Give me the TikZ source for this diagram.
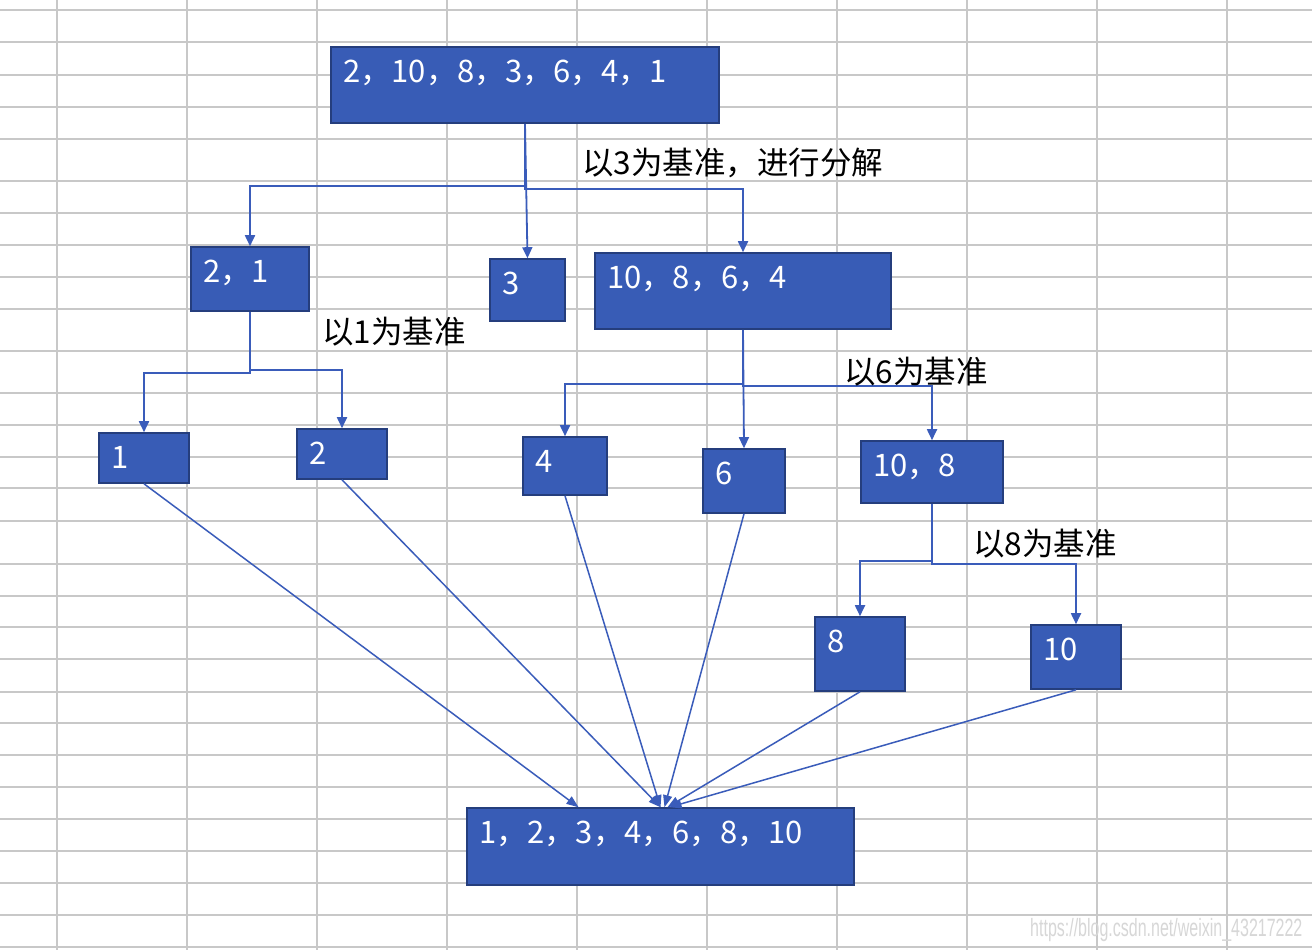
\documentclass[tikz,border=0pt]{standalone}
\usepackage{fontspec}
\setmainfont{Noto Sans CJK SC}
\newfontfamily\wmfont{Liberation Sans}
\usetikzlibrary{arrows.meta,calc}
\definecolor{boxfill}{RGB}{56,92,182}
\definecolor{boxline}{RGB}{37,62,125}
\definecolor{connblue}{RGB}{58,92,186}
\definecolor{gridgray}{RGB}{200,200,200}
\definecolor{wmgray}{RGB}{215,215,215}

\begin{document}
\begin{tikzpicture}[x=1bp,y=-1bp,
    pbox/.style={draw=boxline, fill=boxfill, line width=1.6bp, inner sep=0pt},
    ptxt/.style={anchor=base west, inner sep=0pt, text=white, font=\fontsize{31bp}{37bp}\selectfont},
    note/.style={anchor=base west, inner sep=0pt, font=\fontsize{31.5bp}{37bp}\selectfont},
    elbow/.style={draw=connblue, line width=1.8bp, -{Triangle[length=11bp,width=10bp]}},
    merge/.style={draw=connblue, line width=1.5bp, -{Triangle[length=12bp,width=9bp]}}]

    \useasboundingbox (0,0) rectangle (1312,950);
    \fill[white] (0,0) rectangle (1312,950);
    \foreach \gx in {57,187,...,1227} \draw[gridgray, line width=1.6bp] (\gx,0) -- (\gx,950);
    \foreach \gy in {10,42,75,107,139,181,213,245,277,309,351,393,425,457,488,521,564,596,627,659,692,723,755,787,819,851,883,915,947}
        \draw[gridgray, line width=1.6bp] (0,\gy) -- (1312,\gy);

    \def\numbox#1#2#3#4#5#6{
        \node[pbox, minimum width=#4bp, minimum height=#5bp] (#1) at (#2,#3) {};
        \node[ptxt] at ($(#1.north west)+(13,36)$) {#6};
    }

    \numbox{all}{525}{85}{388}{76}{2，10，8，3，6，4，1}
    \numbox{b21}{250}{279}{118}{64}{2，1}
    \numbox{b3}{527.5}{290}{75}{62}{3}
    \numbox{rest}{743}{291}{296}{76}{10，8，6，4}
    \numbox{b1}{144}{458}{90}{50}{1}
    \numbox{b2}{342}{454}{90}{50}{2}
    \numbox{b4}{565}{466}{84}{58}{4}
    \numbox{b6}{744}{481}{82}{64}{6}
    \numbox{b108}{932}{472}{142}{62}{10，8}
    \numbox{b8}{860}{654}{90}{74}{8}
    \numbox{b10}{1076}{657}{90}{64}{10}
    \numbox{res}{660.5}{846.5}{387}{77}{1，2，3，4，6，8，10}

    \draw[elbow] (all.south) -- ++(0,62) -| (b21.north);
    \draw[elbow] (all.south) -- (b3.north);
    \draw[elbow] (all.south) -- ++(0,65) -| (rest.north);
    \draw[elbow] (b21.south) -- ++(0,61) -| (b1.north);
    \draw[elbow] (b21.south) -- ++(0,58) -| (b2.north);
    \draw[elbow] (rest.south) -- ++(0,54) -| (b4.north);
    \draw[elbow] (rest.south) -- (b6.north);
    \draw[elbow] (rest.south) -- ++(0,56) -| (b108.north);
    \draw[elbow] (b108.south) -- ++(0,57) -| (b8.north);
    \draw[elbow] (b108.south) -- ++(0,60) -| (b10.north);

    \coordinate (in1) at ([xshift=-82bp]res.north);
    \draw[merge] (b1.south) -- (in1);
    \foreach \leaf/\dx in {b2/0, b4/0, b6/4, b8/7, b10/9}
        \draw[merge] (\leaf.south) -- ([xshift=\dx bp]res.north);

    \node[note] (cut3) at (582,174) {以3为基准，进行分解};
    \node[note] (cut1) at (322,343) {以1为基准};
    \node[note] (cut6) at (844,383) {以6为基准};
    \node[note] (cut8) at (973,555) {以8为基准};

    \node[anchor=base west, inner sep=0pt, text=wmgray, font=\wmfont\fontsize{25bp}{30bp}\selectfont] (mark) at (1030,936) {\scalebox{0.64}[1]{https://blog.csdn.net/weixin\_43217222}};
\end{tikzpicture}
\end{document}
